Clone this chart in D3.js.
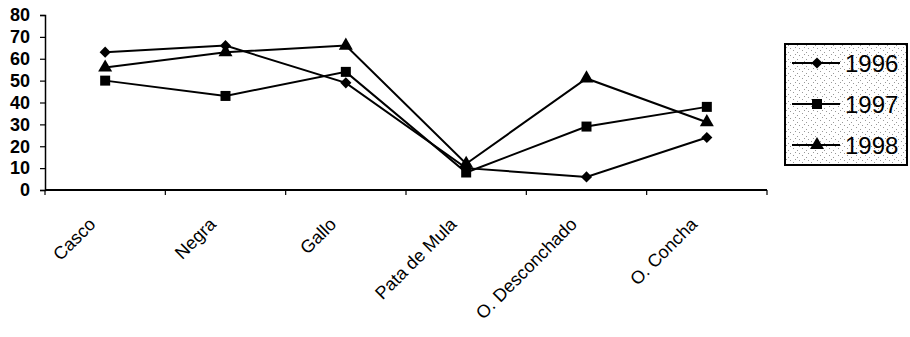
<!DOCTYPE html>
<html>
<head>
<meta charset="utf-8">
<script src="https://cdn.jsdelivr.net/npm/d3@7"></script>
<style>
  html, body { margin: 0; padding: 0; background: #fff; }
  svg { display: block; }
</style>
</head>
<body>
<svg id="chart" width="910" height="337"></svg>
<script>
// Categories and yearly series
const categories = ["Casco", "Negra", "Gallo", "Pata de Mula", "O. Desconchado", "O. Concha"];
const values1996 = [63, 66, 49, 10, 6, 24];
const values1997 = [50, 43, 54, 8, 29, 38];
const values1998 = [56, 63, 66, 12, 51, 31];
const seriesNames = ["1996", "1997", "1998"];
const yTicks = [0, 10, 20, 30, 40, 50, 60, 70, 80];

// Diamonds are drawn as squares turned 45 degrees
const series = [
  { name: seriesNames[0], values: values1996, symbol: d3.symbolSquare, size: 62, rot: 45 },
  { name: seriesNames[1], values: values1997, symbol: d3.symbolSquare, size: 100, rot: 0 },
  { name: seriesNames[2], values: values1998, symbol: d3.symbolTriangle, size: 85, rot: 0 }
];

const svg = d3.select("#chart");
const plotLeft = 45, plotRight = 767, plotTop = 15, plotBottom = 190;

const x = d3.scaleBand().domain(categories).range([plotLeft, plotRight]).padding(0);
const cx = c => x(c) + x.bandwidth() / 2;
const y = d3.scaleLinear().domain([0, 80]).range([plotBottom, plotTop]);

// Y axis
const yAxis = svg.append("g")
  .attr("transform", `translate(${plotLeft},0)`)
  .call(d3.axisLeft(y).tickValues(yTicks).tickSize(5).tickPadding(10));
yAxis.select(".domain").attr("stroke", "#000").attr("stroke-width", 1.5);
yAxis.selectAll(".tick line").attr("stroke", "#000").attr("stroke-width", 1.2);
yAxis.selectAll(".tick text")
  .attr("font-family", "Liberation Sans, Arial, sans-serif")
  .attr("font-weight", "bold")
  .attr("font-size", 18)
  .attr("fill", "#000");

// X axis: ticks on category boundaries
const boundaries = categories.map(c => x(c)).concat([plotRight]);
svg.append("line")
  .attr("x1", plotLeft).attr("x2", plotRight)
  .attr("y1", plotBottom).attr("y2", plotBottom)
  .attr("stroke", "#000").attr("stroke-width", 1.8);
svg.selectAll(".xtick").data(boundaries).join("line")
  .attr("class", "xtick")
  .attr("x1", d => d).attr("x2", d => d)
  .attr("y1", plotBottom).attr("y2", plotBottom + 5)
  .attr("stroke", "#000").attr("stroke-width", 1.2);

// Rotated category labels
svg.selectAll(".xlabel").data(categories).join("text")
  .attr("class", "xlabel")
  .attr("transform", d => `translate(${cx(d) - 13},${plotBottom + 31}) rotate(-45)`)
  .attr("text-anchor", "end")
  .attr("dy", "0.35em")
  .attr("font-family", "Liberation Sans, Arial, sans-serif")
  .attr("font-size", 18)
  .attr("fill", "#000")
  .text(d => d);

// Series lines and markers
const line = d3.line().x((d, i) => cx(categories[i])).y(d => y(d));
series.forEach(s => {
  svg.append("path")
    .datum(s.values)
    .attr("d", line)
    .attr("fill", "none")
    .attr("stroke", "#000")
    .attr("stroke-width", 2);
  svg.selectAll(null).data(s.values).join("path")
    .attr("transform", (d, i) => `translate(${cx(categories[i])},${y(d)}) rotate(${s.rot})`)
    .attr("d", d3.symbol().type(s.symbol).size(s.size))
    .attr("fill", "#000");
});

// Legend with speckled background
const defs = svg.append("defs");
const pat = defs.append("pattern")
  .attr("id", "speckle").attr("patternUnits", "userSpaceOnUse")
  .attr("width", 9).attr("height", 7);
pat.append("rect").attr("width", 9).attr("height", 7).attr("fill", "#fff");
[[1, 1], [5, 3], [3, 5], [7, 6]].forEach(([px, py]) =>
  pat.append("rect").attr("x", px).attr("y", py).attr("width", 1).attr("height", 1).attr("fill", "#999"));

const legend = svg.append("g");
legend.append("rect")
  .attr("x", 785).attr("y", 44).attr("width", 122).attr("height", 121)
  .attr("fill", "url(#speckle)")
  .attr("stroke", "#000").attr("stroke-width", 2);
const legendY = [63, 104, 145];
series.forEach((s, i) => {
  const g = legend.append("g").attr("transform", `translate(0,${legendY[i]})`);
  g.append("line").attr("x1", 792).attr("x2", 840).attr("y1", 0).attr("y2", 0)
    .attr("stroke", "#000").attr("stroke-width", 2);
  g.append("path").attr("transform", `translate(817,0) rotate(${s.rot})`)
    .attr("d", d3.symbol().type(s.symbol).size(s.size)).attr("fill", "#000");
  g.append("text").attr("x", 845).attr("y", 0).attr("dy", "0.36em")
    .attr("font-family", "Liberation Sans, Arial, sans-serif")
    .attr("font-size", 24)
    .attr("fill", "#000")
    .text(s.name);
});
</script>
</body>
</html>
